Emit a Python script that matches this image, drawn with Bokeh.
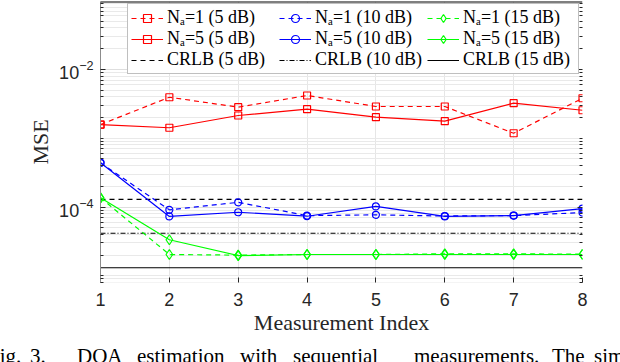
from bokeh.plotting import figure
from bokeh.layouts import column
from bokeh.models import (FixedTicker, LogAxis, Legend, LegendItem, Span, Div,
                          Range1d, CustomJSTickFormatter)
from bokeh.embed import file_html
from bokeh.resources import INLINE

# ---------------- data ----------------
measurement_index = [1, 2, 3, 4, 5, 6, 7, 8]
na1_5db = [1.58e-3, 3.94e-3, 2.83e-3, 4.18e-3, 2.89e-3, 2.89e-3, 1.18e-3, 3.81e-3]
na5_5db = [1.58e-3, 1.42e-3, 2.14e-3, 2.64e-3, 2.02e-3, 1.77e-3, 3.23e-3, 2.55e-3]
na1_10db = [4.39e-4, 9.1e-5, 1.17e-4, 7.5e-5, 7.7e-5, 7.4e-5, 7.5e-5, 8.3e-5]
na5_10db = [4.39e-4, 7.3e-5, 8.4e-5, 7.35e-5, 1.02e-4, 7.3e-5, 7.5e-5, 9.5e-5]
na1_15db = [1.36e-4, 2.04e-5, 2.0e-5, 2.04e-5, 2.04e-5, 2.09e-5, 2.09e-5, 2.06e-5]
na5_15db = [1.36e-4, 3.34e-5, 1.97e-5, 2.04e-5, 2.04e-5, 2.04e-5, 2.04e-5, 2.04e-5]
crlb_5db = 1.29e-4
crlb_10db = 4.16e-5
crlb_15db = 1.31e-5
y_major_ticks = [1e-4, 1e-2]
y_minor_ticks = [k * 10.0 ** e for e in range(-6, 0) for k in range(1, 10)
                 if not any(abs(k * 10.0 ** e - t) < 1e-12 for t in [1e-4, 1e-2])]
legend_labels = [
    "N\u2090=1 (5 dB)", "N\u2090=1 (10 dB)", "N\u2090=1 (15 dB)",
    "N\u2090=5 (5 dB)", "N\u2090=5 (10 dB)", "N\u2090=5 (15 dB)",
    "CRLB (5 dB)", "CRLB (10 dB)", "CRLB (15 dB)",
]
caption_words = ["Fig.", "3.", "DOA", "estimation", "with", "sequential",
                 "measurements.", "The", "sim"]

RED, BLUE, GREEN = "#ff0000", "#0000ff", "#00ff00"
SERIF = "Liberation Serif"
SANS = "Liberation Sans"
Y_LO, Y_HI = 10 ** -5.097, 10 ** -1.013

FIG_H = 349
FRAME_L, FRAME_R, FRAME_T, FRAME_B = 100, 582, 1, 282

p = figure(width=620, height=FIG_H, x_range=Range1d(1, 8),
           y_range=Range1d(Y_LO, Y_HI), y_axis_type="log",
           output_backend="svg", toolbar_location=None,
           min_border_left=FRAME_L, min_border_right=620 - FRAME_R,
           min_border_top=FRAME_T, min_border_bottom=FIG_H - FRAME_B)
p.outline_line_color = None
p.background_fill_color = "white"
p.border_fill_color = "white"

# grids
p.xgrid.ticker = FixedTicker(ticks=measurement_index)
p.xgrid.grid_line_color = "#e6e6e6"
p.ygrid.ticker = FixedTicker(ticks=y_major_ticks, minor_ticks=y_minor_ticks)
p.ygrid.grid_line_color = "#dedede"
p.ygrid.minor_grid_line_color = "#e9e9e9"

# x axis
xa = p.xaxis[0]
xa.ticker = FixedTicker(ticks=measurement_index)
xa.axis_line_color = None
xa.major_tick_in = 5
xa.major_tick_out = 0
xa.minor_tick_line_color = None
xa.major_tick_line_color = "#262626"
xa.major_label_text_font = SANS
xa.major_label_text_font_size = "18px"
xa.major_label_text_color = "#262626"
xa.major_label_standoff = 10
xa.axis_label = "Measurement Index"
xa.axis_label_text_font = SERIF
xa.axis_label_text_font_size = "22px"
xa.axis_label_text_font_style = "normal"
xa.axis_label_text_color = "#262626"
xa.axis_label_standoff = 1

# y axis
ya = p.yaxis[0]
ya.ticker = FixedTicker(ticks=y_major_ticks, minor_ticks=y_minor_ticks)
ya.axis_line_color = "#8c8c8c"
ya.major_tick_in = 5
ya.major_tick_out = 0
ya.minor_tick_in = 3
ya.minor_tick_out = 0
ya.major_tick_line_color = "#262626"
ya.minor_tick_line_color = "#262626"
ya.major_label_text_font = SANS
ya.major_label_text_font_size = "18px"
ya.major_label_text_color = "#262626"
ya.major_label_standoff = 7
ya.axis_label = "MSE"
ya.axis_label_text_font = SERIF
ya.axis_label_text_font_size = "22px"
ya.axis_label_text_font_style = "normal"
ya.axis_label_text_color = "#262626"
ya.axis_label_standoff = 3

blank = CustomJSTickFormatter(code="return ''")

# right ticks
ra = LogAxis(ticker=FixedTicker(ticks=y_major_ticks, minor_ticks=y_minor_ticks),
             formatter=blank)
ra.axis_line_color = None
ra.major_tick_in = 5
ra.major_tick_out = 0
ra.minor_tick_in = 3
ra.minor_tick_out = 0
ra.major_tick_line_color = "#262626"
ra.minor_tick_line_color = "#262626"
ra.major_label_standoff = 0
p.add_layout(ra, "right")

# top border line
p.add_layout(Span(location=Y_HI, dimension="width", line_color="black", line_width=2))

# CRLB lines
crlb_5 = p.line(measurement_index, [crlb_5db] * len(measurement_index),
                line_color="black", line_width=1.2, line_dash="5 4")
crlb_10 = p.line(measurement_index, [crlb_10db] * len(measurement_index),
                 line_color="black", line_width=1.2, line_dash="5 2 1 2")
crlb_15 = p.line(measurement_index, [crlb_15db] * len(measurement_index),
                 line_color="black", line_width=1.2)

def series(vals, color, dash, marker, size):
    kw = dict(line_color=color, line_width=1.2)
    if dash:
        kw["line_dash"] = dash
    l = p.line(measurement_index, vals, **kw)
    m = p.scatter(measurement_index, vals, marker=marker, size=size,
                  line_color=color, line_width=1.2, fill_alpha=0)
    return [l, m]

r_na1_5 = series(na1_5db, RED, "5 4", "square", 7)
r_na5_5 = series(na5_5db, RED, None, "square", 7)
r_na1_10 = series(na1_10db, BLUE, "5 4", "circle", 7)
r_na5_10 = series(na5_10db, BLUE, None, "circle", 7)
r_na1_15 = series(na1_15db, GREEN, "5 4", "diamond", 10)
r_na5_15 = series(na5_15db, GREEN, None, "diamond", 10)

renderers = [r_na1_5, r_na1_10, r_na1_15, r_na5_5, r_na5_10, r_na5_15,
             [crlb_5], [crlb_10], [crlb_15]]
items = [LegendItem(label=lab, renderers=rs) for lab, rs in zip(legend_labels, renderers)]
legend = Legend(items=items, location=(27, (FRAME_B - FRAME_T) - 66 - 7),
                orientation="horizontal", ncols=3)
legend.label_text_font = SERIF
legend.label_text_font_size = "18px"
legend.label_text_color = "black"
legend.border_line_color = "#808080"
legend.border_line_width = 1.2
legend.background_fill_color = "white"
legend.background_fill_alpha = 1
legend.padding = 3
legend.spacing = 0
legend.margin = 0
legend.glyph_width = 32
legend.glyph_height = 20
legend.label_height = 20
legend.label_width = 112
legend.label_standoff = 4
p.add_layout(legend, "center")

# caption below the chart (partially cut off, as in the source)
caption_px = [-12, 30, 77, 137, 240, 293, 414, 552, 594]
spans = "".join(
    f'<span style="position:absolute;left:{x}px;top:0px;white-space:nowrap">{w}</span>'
    for w, x in zip(caption_words, caption_px))
caption = Div(
    text=(f'<div style="position:relative;top:-4px;width:620px;height:40px;'
          f"font-family:'Liberation Serif';font-size:21px;line-height:22px;"
          f'color:black">{spans}</div>'),
    width=620, height=362 - FIG_H, margin=0,
    styles={"overflow": "hidden", "margin": "0", "padding": "0"})

layout = column(p, caption, spacing=0)
open("out.html", "w").write(file_html(layout, INLINE))
